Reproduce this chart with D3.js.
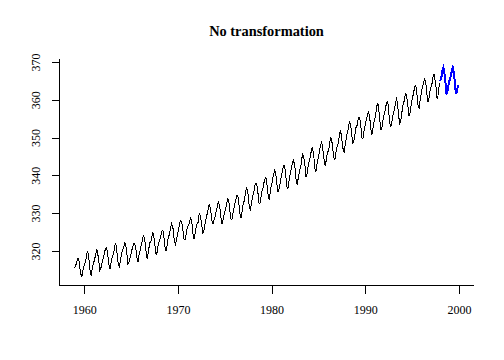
<!DOCTYPE html>
<html><head><meta charset="utf-8">
<script src="https://cdn.jsdelivr.net/npm/d3@7/dist/d3.min.js"></script>
<style>body{margin:0;background:#fff}svg{display:block}</style>
</head><body>
<svg id="chart" width="504" height="360"></svg>
<script>
// Mauna Loa CO2 monthly, Jan 1959 – Dec 1997
const startYear = 1959;
const co2 = [
315.42,316.31,316.50,317.56,318.13,318.00,316.39,314.65,313.68,313.18,314.66,315.43,
316.27,316.81,317.42,318.87,319.87,319.43,318.01,315.74,314.00,313.68,314.84,316.03,
316.73,317.54,318.38,319.31,320.42,319.61,318.42,316.63,314.83,315.16,315.94,316.85,
317.78,318.40,319.53,320.42,320.85,320.45,319.45,317.25,316.11,315.27,316.53,317.53,
318.58,318.92,319.70,321.22,322.08,321.31,319.58,317.61,316.05,315.83,316.91,318.20,
319.41,320.07,320.74,321.40,322.06,321.73,320.27,318.54,316.54,316.71,317.53,318.55,
319.27,320.28,320.73,321.97,322.00,321.71,321.05,318.71,317.66,317.14,318.70,319.25,
320.46,321.43,322.23,323.54,323.91,323.59,322.24,320.20,318.48,317.94,319.63,320.87,
322.17,322.34,322.88,324.25,324.83,323.93,322.38,320.76,319.10,319.24,320.56,321.80,
322.40,322.99,323.73,324.86,325.40,325.20,323.98,321.95,320.18,320.09,321.16,322.74,
323.83,324.26,325.47,326.50,327.21,326.54,325.72,323.50,322.22,321.62,322.69,323.95,
324.89,325.82,326.77,327.97,327.91,327.50,326.18,324.53,322.93,322.90,323.85,324.96,
326.01,326.51,327.01,327.62,328.76,328.40,327.20,325.27,323.20,323.40,324.63,325.85,
326.60,327.47,327.58,329.56,329.90,328.92,327.88,326.16,324.68,325.04,326.34,327.39,
328.37,329.40,330.14,331.33,332.31,331.90,330.70,329.15,327.35,327.02,327.99,328.48,
329.18,330.55,331.32,332.48,332.92,332.08,331.01,329.23,327.27,327.21,328.29,329.41,
330.23,331.25,331.87,333.14,333.80,333.43,331.73,329.90,328.40,328.17,329.32,330.59,
331.58,332.39,333.33,334.41,334.71,334.17,332.89,330.77,329.14,328.78,330.14,331.52,
332.75,333.24,334.53,335.90,336.57,336.10,334.76,332.59,331.42,330.98,332.24,333.68,
334.80,335.22,336.47,337.59,337.84,337.72,336.37,334.51,332.60,332.38,333.75,334.78,
336.05,336.59,337.79,338.71,339.30,339.12,337.56,335.92,333.75,333.70,335.12,336.56,
337.84,338.19,339.91,340.60,341.29,341.00,339.39,337.43,335.72,335.84,336.93,338.04,
339.06,340.30,341.21,342.33,342.74,342.08,340.32,338.26,336.52,336.68,338.19,339.44,
340.57,341.44,342.53,343.39,343.96,343.18,341.88,339.65,337.81,337.69,339.09,340.32,
341.20,342.35,342.93,344.77,345.58,345.14,343.81,342.21,339.69,339.82,340.98,342.82,
343.52,344.33,345.11,346.88,347.25,346.62,345.22,343.11,340.90,341.18,342.80,344.04,
344.79,345.82,347.25,348.17,348.74,348.07,346.38,344.51,342.92,342.62,344.06,345.38,
346.11,346.78,347.68,349.37,350.03,349.37,347.76,345.73,344.68,343.99,345.48,346.72,
347.84,348.29,349.23,350.80,351.66,351.07,349.33,347.92,346.27,346.18,347.64,348.78,
350.25,351.54,352.05,353.41,354.04,353.62,352.22,350.27,348.55,348.72,349.91,351.18,
352.60,352.92,353.53,355.26,355.52,354.97,353.75,351.52,349.64,349.83,351.14,352.37,
353.50,354.55,355.23,356.04,357.00,356.07,354.67,352.76,350.82,351.04,352.69,354.07,
354.59,355.63,357.03,358.48,359.22,358.12,356.06,353.92,352.05,352.11,353.64,354.89,
355.88,356.63,357.72,359.07,359.58,359.17,356.94,354.92,352.94,353.23,354.09,355.33,
356.63,357.10,358.32,359.41,360.23,359.55,357.53,355.48,353.67,353.95,355.30,356.78,
358.34,358.89,359.95,361.25,361.67,360.94,359.55,357.49,355.84,356.00,357.59,359.05,
359.98,361.03,361.66,363.48,363.82,363.30,361.94,359.50,358.11,357.80,359.61,360.74,
362.09,363.29,364.06,364.76,365.45,365.01,363.70,361.54,359.51,359.65,360.80,362.38,
363.23,364.06,364.61,366.40,366.84,365.68,364.52,362.57,360.24,360.83,362.49,364.34
];
// Forecast, Jan 1998 – Dec 1999
const forecastStart = 1998;
const forecast = [
364.9,365.7,366.4,367.9,368.5,367.7,366.2,364.0,361.7,361.8,363.2,364.5,
365.2,366.0,366.6,368.0,368.6,367.8,366.3,364.1,361.8,361.9,363.0,364.0
];
const xTicks = [1960, 1970, 1980, 1990, 2000];
const yTicks = [320, 330, 340, 350, 360, 370];
const title = "No transformation";

const obs = co2.map((v, i) => ({t: startYear + i / 12, v}));
const fc = forecast.map((v, i) => ({t: forecastStart + i / 12, v}));
const all = obs.concat(fc);

const mLeft = 59.5, mRight = 473.5, mTop = 59, mBottom = 285;
const xe = d3.extent(all, d => d.t), ye = d3.extent(all, d => d.v);
const px = (xe[1] - xe[0]) * 0.04, py = (ye[1] - ye[0]) * 0.04;
const x = d3.scaleLinear().domain([xe[0] - px, xe[1] + px]).range([mLeft, mRight]);
const y = d3.scaleLinear().domain([ye[0] - py, ye[1] + py]).range([mBottom, mTop]);

const svg = d3.select("#chart");
const font = "'Liberation Serif','Times New Roman',serif";

const line = d3.line().x(d => x(d.t)).y(d => y(d.v));
svg.append("path").datum(obs).attr("d", line)
  .attr("fill", "none").attr("stroke", "#000").attr("stroke-width", 1)
  .attr("shape-rendering", "crispEdges");
svg.append("path").datum(fc).attr("d", line)
  .attr("fill", "none").attr("stroke", "#0000ff").attr("stroke-width", 2)
  .attr("shape-rendering", "crispEdges");

// L-shaped box
svg.append("path")
  .attr("d", `M${mLeft},${mTop}V${mBottom + 0.5}H${mRight}`)
  .attr("fill", "none").attr("stroke", "#000").attr("stroke-width", 1)
  .attr("shape-rendering", "crispEdges");

const yAxis = svg.append("g").attr("transform", `translate(${mLeft},0)`)
  .call(d3.axisLeft(y).tickValues(yTicks).tickSize(8).tickSizeOuter(0).tickPadding(0));
yAxis.select(".domain").remove();
yAxis.selectAll("line").attr("shape-rendering", "crispEdges");
yAxis.selectAll("text")
  .attr("font-family", font).attr("font-size", 12).attr("fill", "#000")
  .attr("x", null).attr("dy", null)
  .attr("text-anchor", "middle")
  .attr("transform", "translate(-20,0) rotate(-90)");

const xAxis = svg.append("g").attr("transform", `translate(0,${mBottom + 0.5})`)
  .call(d3.axisBottom(x).tickValues(xTicks).tickFormat(d3.format("d")).tickSize(8).tickSizeOuter(0));
xAxis.select(".domain").remove();
xAxis.selectAll("line").attr("shape-rendering", "crispEdges");
xAxis.selectAll("text")
  .attr("font-family", font).attr("font-size", 12).attr("fill", "#000")
  .attr("y", 28.5).attr("dy", null);

svg.append("text").attr("x", (mLeft + mRight) / 2).attr("y", 35.5)
  .attr("text-anchor", "middle").attr("font-family", font)
  .attr("font-weight", "bold").attr("font-size", 14.4).text(title);
</script>
</body></html>
